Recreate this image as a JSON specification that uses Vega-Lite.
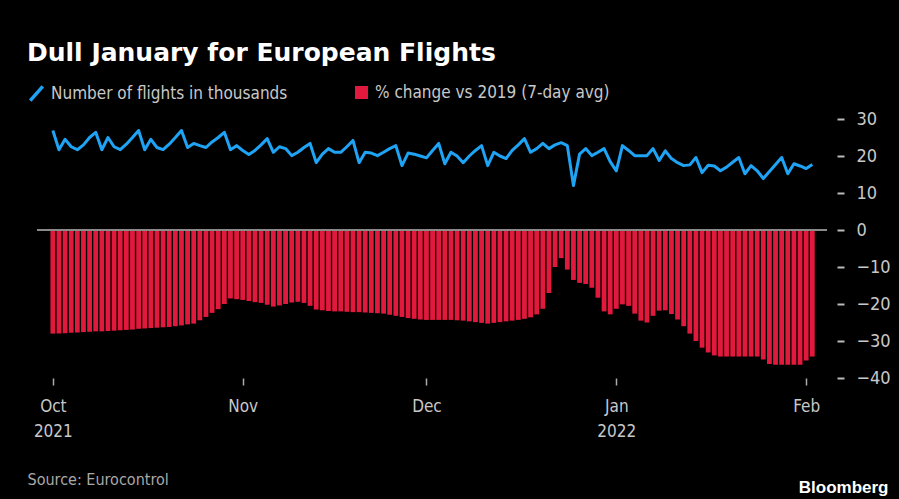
{
  "$schema": "https://vega.github.io/schema/vega-lite/v6.json",
  "width": 790,
  "height": 259,
  "autosize": {"type": "none"},
  "padding": {"left": 37, "top": 119, "right": 72, "bottom": 121},
  "background": "#000000",
  "title": {
    "text": "Dull January for European Flights",
    "anchor": "start",
    "frame": "group",
    "dx": -10,
    "offset": 18,
    "color": "#ffffff",
    "font": "DejaVu Sans, Liberation Sans, sans-serif",
    "fontSize": 25,
    "fontWeight": "bold"
  },
  "config": {
    "view": {"stroke": null},
    "legend": {
      "orient": "none",
      "title": null,
      "labelLimit": 0,
      "labelColor": "#c8c8c8",
      "labelFont": "DejaVu Sans Condensed, Liberation Sans Narrow, sans-serif",
      "labelFontSize": 17,
      "labelOffset": 6,
      "padding": 0
    },
    "axisX": {
      "grid": false,
      "domain": false,
      "tickSize": 7,
      "tickColor": "#aaaaaa",
      "tickWidth": 1.5,
      "labelColor": "#c8c8c8",
      "labelFont": "DejaVu Sans Condensed, Liberation Sans Narrow, sans-serif",
      "labelFontSize": 17,
      "labelPadding": 13,
      "labelLineHeight": 25,
      "labelFlush": false,
      "labelOverlap": false,
      "titleAnchor": "start",
      "titleAlign": "left",
      "titleX": -10,
      "titleY": 106,
      "titleBaseline": "alphabetic",
      "titleColor": "#a8a8a8",
      "titleFont": "DejaVu Sans Condensed, Liberation Sans Narrow, sans-serif",
      "titleFontSize": 16,
      "titleFontWeight": "normal"
    },
    "axisY": {
      "grid": false,
      "domain": false,
      "offset": 10,
      "tickSize": 7,
      "tickColor": "#bbbbbb",
      "tickWidth": 2,
      "labelPadding": 12,
      "labelAlign": "left",
      "labelColor": "#c8c8c8",
      "labelFont": "DejaVu Sans Condensed, Liberation Sans Narrow, sans-serif",
      "labelFontSize": 18,
      "labelOverlap": false,
      "titleAngle": 0,
      "titleX": 51,
      "titleY": 373,
      "titleAlign": "right",
      "titleBaseline": "alphabetic",
      "titleColor": "#ffffff",
      "titleFont": "Liberation Sans, sans-serif",
      "titleFontSize": 17,
      "titleFontWeight": "bold"
    }
  },
  "data": {
    "values": [
      {"date": "2021-10-01", "flights": 26.9, "pct": -28.0},
      {"date": "2021-10-02", "flights": 21.7, "pct": -28.0},
      {"date": "2021-10-03", "flights": 24.5, "pct": -27.9},
      {"date": "2021-10-04", "flights": 22.5, "pct": -27.8},
      {"date": "2021-10-05", "flights": 21.7, "pct": -27.7},
      {"date": "2021-10-06", "flights": 23.0, "pct": -27.6},
      {"date": "2021-10-07", "flights": 25.0, "pct": -27.5},
      {"date": "2021-10-08", "flights": 26.4, "pct": -27.4},
      {"date": "2021-10-09", "flights": 21.7, "pct": -27.4},
      {"date": "2021-10-10", "flights": 25.0, "pct": -27.3},
      {"date": "2021-10-11", "flights": 22.5, "pct": -27.2},
      {"date": "2021-10-12", "flights": 21.7, "pct": -27.1},
      {"date": "2021-10-13", "flights": 23.2, "pct": -27.0},
      {"date": "2021-10-14", "flights": 25.0, "pct": -26.9},
      {"date": "2021-10-15", "flights": 26.9, "pct": -26.7},
      {"date": "2021-10-16", "flights": 21.7, "pct": -26.6},
      {"date": "2021-10-17", "flights": 24.5, "pct": -26.5},
      {"date": "2021-10-18", "flights": 22.3, "pct": -26.4},
      {"date": "2021-10-19", "flights": 21.7, "pct": -26.3},
      {"date": "2021-10-20", "flights": 23.2, "pct": -26.2},
      {"date": "2021-10-21", "flights": 25.0, "pct": -26.0},
      {"date": "2021-10-22", "flights": 26.9, "pct": -25.8},
      {"date": "2021-10-23", "flights": 22.3, "pct": -25.5},
      {"date": "2021-10-24", "flights": 23.4, "pct": -25.3},
      {"date": "2021-10-25", "flights": 22.8, "pct": -24.4},
      {"date": "2021-10-26", "flights": 22.3, "pct": -23.5},
      {"date": "2021-10-27", "flights": 23.8, "pct": -22.4},
      {"date": "2021-10-28", "flights": 25.0, "pct": -21.4},
      {"date": "2021-10-29", "flights": 26.4, "pct": -20.0},
      {"date": "2021-10-30", "flights": 21.7, "pct": -18.5},
      {"date": "2021-10-31", "flights": 22.8, "pct": -18.7},
      {"date": "2021-11-01", "flights": 21.5, "pct": -18.9},
      {"date": "2021-11-02", "flights": 20.4, "pct": -19.2},
      {"date": "2021-11-03", "flights": 21.5, "pct": -19.5},
      {"date": "2021-11-04", "flights": 23.0, "pct": -19.7},
      {"date": "2021-11-05", "flights": 24.7, "pct": -20.2},
      {"date": "2021-11-06", "flights": 21.0, "pct": -20.7},
      {"date": "2021-11-07", "flights": 22.5, "pct": -20.4},
      {"date": "2021-11-08", "flights": 22.0, "pct": -20.0},
      {"date": "2021-11-09", "flights": 20.1, "pct": -19.6},
      {"date": "2021-11-10", "flights": 21.0, "pct": -19.4},
      {"date": "2021-11-11", "flights": 22.3, "pct": -19.7},
      {"date": "2021-11-12", "flights": 23.4, "pct": -20.5},
      {"date": "2021-11-13", "flights": 18.2, "pct": -21.5},
      {"date": "2021-11-14", "flights": 20.5, "pct": -21.7},
      {"date": "2021-11-15", "flights": 22.0, "pct": -21.9},
      {"date": "2021-11-16", "flights": 21.0, "pct": -22.0},
      {"date": "2021-11-17", "flights": 21.0, "pct": -22.0},
      {"date": "2021-11-18", "flights": 22.5, "pct": -22.1},
      {"date": "2021-11-19", "flights": 24.2, "pct": -22.2},
      {"date": "2021-11-20", "flights": 18.2, "pct": -22.2},
      {"date": "2021-11-21", "flights": 21.0, "pct": -22.3},
      {"date": "2021-11-22", "flights": 20.8, "pct": -22.4},
      {"date": "2021-11-23", "flights": 20.1, "pct": -22.5},
      {"date": "2021-11-24", "flights": 21.0, "pct": -22.6},
      {"date": "2021-11-25", "flights": 22.0, "pct": -22.9},
      {"date": "2021-11-26", "flights": 22.8, "pct": -23.2},
      {"date": "2021-11-27", "flights": 17.4, "pct": -23.5},
      {"date": "2021-11-28", "flights": 20.8, "pct": -23.8},
      {"date": "2021-11-29", "flights": 20.5, "pct": -24.0},
      {"date": "2021-11-30", "flights": 20.0, "pct": -24.2},
      {"date": "2021-12-01", "flights": 19.5, "pct": -24.3},
      {"date": "2021-12-02", "flights": 21.5, "pct": -24.3},
      {"date": "2021-12-03", "flights": 23.4, "pct": -24.3},
      {"date": "2021-12-04", "flights": 17.9, "pct": -24.3},
      {"date": "2021-12-05", "flights": 21.0, "pct": -24.3},
      {"date": "2021-12-06", "flights": 20.0, "pct": -24.4},
      {"date": "2021-12-07", "flights": 18.2, "pct": -24.5},
      {"date": "2021-12-08", "flights": 20.0, "pct": -24.7},
      {"date": "2021-12-09", "flights": 21.5, "pct": -24.9},
      {"date": "2021-12-10", "flights": 22.8, "pct": -25.1},
      {"date": "2021-12-11", "flights": 17.4, "pct": -25.3},
      {"date": "2021-12-12", "flights": 21.0, "pct": -25.1},
      {"date": "2021-12-13", "flights": 20.0, "pct": -24.9},
      {"date": "2021-12-14", "flights": 19.3, "pct": -24.7},
      {"date": "2021-12-15", "flights": 21.5, "pct": -24.5},
      {"date": "2021-12-16", "flights": 23.0, "pct": -24.3},
      {"date": "2021-12-17", "flights": 24.7, "pct": -24.0},
      {"date": "2021-12-18", "flights": 21.0, "pct": -23.6},
      {"date": "2021-12-19", "flights": 22.0, "pct": -22.8},
      {"date": "2021-12-20", "flights": 23.4, "pct": -21.3},
      {"date": "2021-12-21", "flights": 22.0, "pct": -17.0},
      {"date": "2021-12-22", "flights": 23.0, "pct": -10.0},
      {"date": "2021-12-23", "flights": 23.6, "pct": -7.6},
      {"date": "2021-12-24", "flights": 22.8, "pct": -10.7},
      {"date": "2021-12-25", "flights": 12.0, "pct": -13.5},
      {"date": "2021-12-26", "flights": 20.5, "pct": -14.3},
      {"date": "2021-12-27", "flights": 22.0, "pct": -14.6},
      {"date": "2021-12-28", "flights": 20.1, "pct": -15.6},
      {"date": "2021-12-29", "flights": 21.0, "pct": -18.3},
      {"date": "2021-12-30", "flights": 22.0, "pct": -22.0},
      {"date": "2021-12-31", "flights": 18.5, "pct": -22.8},
      {"date": "2022-01-01", "flights": 16.0, "pct": -21.3},
      {"date": "2022-01-02", "flights": 22.8, "pct": -20.1},
      {"date": "2022-01-03", "flights": 21.5, "pct": -20.5},
      {"date": "2022-01-04", "flights": 20.1, "pct": -22.6},
      {"date": "2022-01-05", "flights": 20.1, "pct": -24.5},
      {"date": "2022-01-06", "flights": 20.1, "pct": -25.0},
      {"date": "2022-01-07", "flights": 22.0, "pct": -23.2},
      {"date": "2022-01-08", "flights": 18.8, "pct": -21.8},
      {"date": "2022-01-09", "flights": 21.4, "pct": -21.7},
      {"date": "2022-01-10", "flights": 19.3, "pct": -22.7},
      {"date": "2022-01-11", "flights": 18.2, "pct": -24.2},
      {"date": "2022-01-12", "flights": 17.4, "pct": -26.0},
      {"date": "2022-01-13", "flights": 17.6, "pct": -28.0},
      {"date": "2022-01-14", "flights": 19.6, "pct": -30.0},
      {"date": "2022-01-15", "flights": 15.5, "pct": -31.8},
      {"date": "2022-01-16", "flights": 17.5, "pct": -33.1},
      {"date": "2022-01-17", "flights": 17.3, "pct": -33.9},
      {"date": "2022-01-18", "flights": 16.0, "pct": -34.2},
      {"date": "2022-01-19", "flights": 17.0, "pct": -34.2},
      {"date": "2022-01-20", "flights": 18.3, "pct": -34.2},
      {"date": "2022-01-21", "flights": 19.6, "pct": -34.2},
      {"date": "2022-01-22", "flights": 15.2, "pct": -34.2},
      {"date": "2022-01-23", "flights": 17.4, "pct": -34.2},
      {"date": "2022-01-24", "flights": 16.0, "pct": -34.2},
      {"date": "2022-01-25", "flights": 13.9, "pct": -35.0},
      {"date": "2022-01-26", "flights": 15.8, "pct": -36.2},
      {"date": "2022-01-27", "flights": 17.7, "pct": -36.4},
      {"date": "2022-01-28", "flights": 19.6, "pct": -36.4},
      {"date": "2022-01-29", "flights": 15.2, "pct": -36.4},
      {"date": "2022-01-30", "flights": 17.9, "pct": -36.4},
      {"date": "2022-01-31", "flights": 17.3, "pct": -36.4},
      {"date": "2022-02-01", "flights": 16.6, "pct": -35.3},
      {"date": "2022-02-02", "flights": 17.7, "pct": -34.2}
    ]
  },
  "layer": [
    {
      "mark": {"type": "line", "strokeWidth": 3, "strokeJoin": "round"},
      "encoding": {
        "x": {
          "field": "date",
          "type": "temporal",
          "title": "Source: Eurocontrol",
          "scale": {
            "type": "utc",
            "domain": [
              {"year": 2021, "month": "sep", "date": 29, "hours": 5, "minutes": 30, "utc": true},
              {"year": 2022, "month": "feb", "date": 3, "hours": 14, "utc": true}
            ]
          },
          "axis": {
            "tickCount": {"interval": "month", "step": 1},
            "labelExpr": "(utcmonth(datum.value) == 0 || utcmonth(datum.value) == 9) ? [utcFormat(datum.value, '%b'), utcFormat(datum.value, '%Y')] : utcFormat(datum.value, '%b')"
          }
        },
        "y": {
          "field": "flights",
          "type": "quantitative",
          "title": "Bloomberg",
          "scale": {"domain": [-40, 30], "nice": false},
          "axis": {"orient": "right", "values": [-40, -30, -20, -10, 0, 10, 20, 30]}
        },
        "color": {
          "datum": "Number of flights in thousands",
          "scale": {"range": ["#1fa3f5"]},
          "legend": {
            "legendX": -10,
            "legendY": -35,
            "symbolType": "M-0.85,0.95L0.85,-0.95",
            "symbolSize": 220,
            "symbolStrokeWidth": 3.5,
            "labelOffset": 5
          }
        }
      }
    },
    {
      "mark": {"type": "bar", "size": 4.8},
      "encoding": {
        "x": {
          "field": "date",
          "type": "temporal",
          "title": "Source: Eurocontrol",
          "axis": {
            "tickCount": {"interval": "month", "step": 1},
            "labelExpr": "(utcmonth(datum.value) == 0 || utcmonth(datum.value) == 9) ? [utcFormat(datum.value, '%b'), utcFormat(datum.value, '%Y')] : utcFormat(datum.value, '%b')"
          }
        },
        "y": {
          "field": "pct",
          "type": "quantitative",
          "title": "Bloomberg",
          "axis": {"orient": "right", "values": [-40, -30, -20, -10, 0, 10, 20, 30]}
        },
        "fill": {
          "datum": "% change vs 2019 (7-day avg)",
          "scale": {"range": ["#e1193d"]},
          "legend": {
            "legendX": 316,
            "legendY": -35,
            "symbolType": "square",
            "symbolSize": 170,
            "symbolStrokeWidth": 0,
            "labelOffset": 5
          }
        }
      }
    },
    {
      "data": {"values": [{}]},
      "mark": {"type": "rule", "color": "#8a8a8a", "strokeWidth": 2},
      "encoding": {
        "y": {
          "datum": 0,
          "type": "quantitative",
          "title": "Bloomberg",
          "axis": {"orient": "right", "values": [-40, -30, -20, -10, 0, 10, 20, 30]}
        }
      }
    }
  ]
}
